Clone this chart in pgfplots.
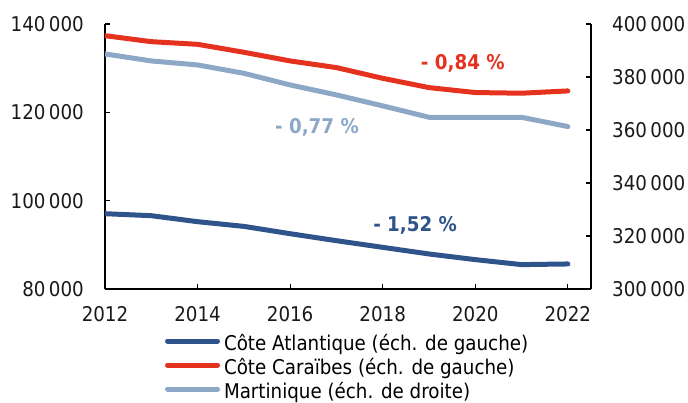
\documentclass[border=0pt]{standalone}
\usepackage{fontspec}
\setmainfont{DejaVuSansCondensed.ttf}[BoldFont=DejaVuSansCondensed-Bold.ttf]
\usepackage{pgfplots}
\pgfplotsset{compat=1.18}
\definecolor{atl}{RGB}{47,84,139}
\definecolor{car}{RGB}{228,50,31}
\definecolor{mar}{RGB}{141,168,199}
\pgfplotsset{
  common/.style={
    scale only axis, width=486bp, height=265bp,
    xmin=2012, xmax=2022.5,
    axis line style={line width=1.3bp, black},
    tick style={line width=1.2bp, black},
    major tick length=5bp,
    tick align=inside,
    scaled y ticks=false,
    ticklabel style={font=\fontsize{20.3bp}{24bp}\selectfont, text=black!90},
  },
}
\begin{document}
\begin{tikzpicture}
\useasboundingbox (-105bp,-114bp) rectangle (583bp,289bp);
\begin{axis}[common,
  axis x line*=bottom, axis y line*=left,
  ymin=80000, ymax=140000, ytick={80000,100000,120000,140000},
  yticklabels={80\,000,100\,000,120\,000,140\,000},
  xtick={2012,2014,2016,2018,2020,2022},
  xticklabels={2012,2014,2016,2018,2020,2022},
  xticklabel style={anchor=north, inner sep=0pt, yshift=-17bp},
  yticklabel style={anchor=east, inner sep=0pt, xshift=-21bp},
]
\addplot[atl, line width=5bp, line join=round, line cap=round] coordinates {
(2012,97050)(2013,96600)(2014,95240)(2015,94180)(2016,92520)(2017,90940)(2018,89430)(2019,87930)(2020,86650)(2021,85520)(2022,85670)};
\addplot[car, line width=5bp, line join=round, line cap=round] coordinates {
(2012,137360)(2013,136000)(2014,135400)(2015,133600)(2016,131640)(2017,130130)(2018,127700)(2019,125600)(2020,124480)(2021,124330)(2022,124850)};
\node[font=\fontsize{20.3bp}{24bp}\selectfont\bfseries, text=car] at (axis cs:2019.73,131170) {- 0,84 \%};
\node[font=\fontsize{20.3bp}{24bp}\selectfont\bfseries, text=mar] at (axis cs:2016.58,116680) {- 0,77 \%};
\node[font=\fontsize{20.3bp}{24bp}\selectfont\bfseries, text=atl] at (axis cs:2018.70,94490) {- 1,52 \%};
\end{axis}
\begin{axis}[common,
  axis x line=none, axis y line*=right,
  ymin=300000, ymax=400000, ytick={300000,320000,340000,360000,380000,400000},
  yticklabels={300\,000,320\,000,340\,000,360\,000,380\,000,400\,000},
  yticklabel style={anchor=west, inner sep=0pt, xshift=21bp},
  legend style={at={(0.1235,-0.1736)}, anchor=north west, draw=none, fill=none,
    inner sep=0pt, outer sep=0pt,
    font=\fontsize{20.3bp}{24bp}\selectfont,
    nodes={inner sep=0pt, text height=15bp, text depth=9bp},
    /tikz/every odd column/.append style={column sep=4bp}},
  legend cell align=left,
  legend image code/.code={\draw[#1, line width=5bp, line cap=round] (2.5bp,6bp) -- (52.5bp,6bp);},
]
\addlegendimage{atl}\addlegendentry{Côte Atlantique (éch. de gauche)}
\addlegendimage{car}\addlegendentry{Côte Caraïbes (éch. de gauche)}
\addplot[mar, line width=5bp, line join=round, line cap=round] coordinates {
(2012,388700)(2013,386060)(2014,384550)(2015,381400)(2016,377000)(2017,373240)(2018,369100)(2019,364800)(2020,364800)(2021,364800)(2022,361300)};
\addlegendentry{Martinique (éch. de droite)}
\end{axis}
\end{tikzpicture}
\end{document}
